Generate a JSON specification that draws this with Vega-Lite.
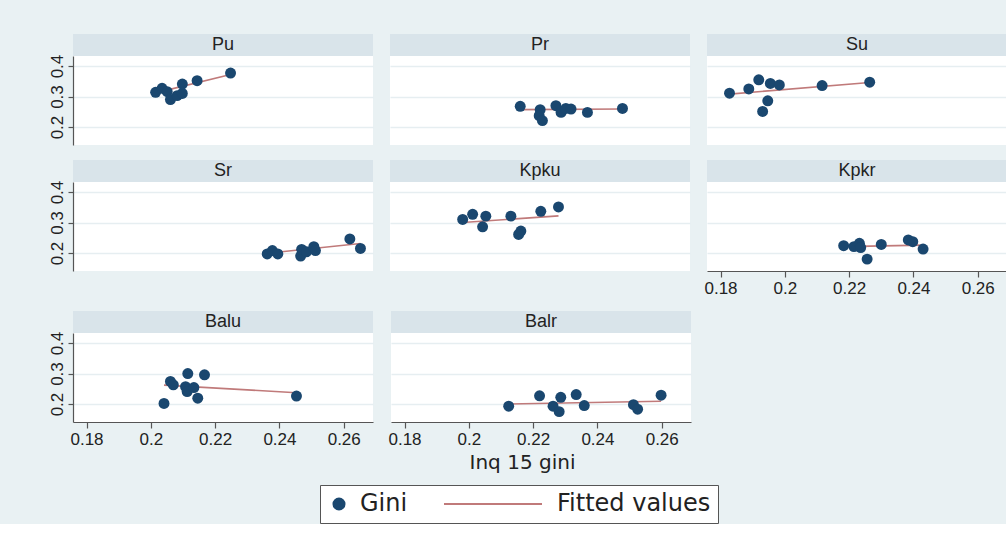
{
  "$schema": "https://vega.github.io/schema/vega-lite/v6.json",
  "padding": {"left": 47, "top": 34, "right": 0, "bottom": 0},
  "background": "#e9f1f3",
  "datasets": {
    "strips": [{"region": "Pu"}, {"region": "Pr"}, {"region": "Su"}, {"region": "Sr"}, {"region": "Kpku"}, {"region": "Kpkr"}, {"region": "Balu"}, {"region": "Balr"}],
    "pts": [
      {"region": "Pu", "x": 0.2015, "y": 0.314}, {"region": "Pu", "x": 0.2035, "y": 0.327}, {"region": "Pu", "x": 0.2051, "y": 0.316}, {"region": "Pu", "x": 0.2061, "y": 0.290}, {"region": "Pu", "x": 0.2082, "y": 0.303}, {"region": "Pu", "x": 0.2098, "y": 0.310}, {"region": "Pu", "x": 0.2098, "y": 0.341}, {"region": "Pu", "x": 0.2144, "y": 0.352}, {"region": "Pu", "x": 0.2248, "y": 0.377},
      {"region": "Pr", "x": 0.2163, "y": 0.268}, {"region": "Pr", "x": 0.2225, "y": 0.257}, {"region": "Pr", "x": 0.2222, "y": 0.237}, {"region": "Pr", "x": 0.2232, "y": 0.221}, {"region": "Pr", "x": 0.2274, "y": 0.270}, {"region": "Pr", "x": 0.2290, "y": 0.248}, {"region": "Pr", "x": 0.2305, "y": 0.261}, {"region": "Pr", "x": 0.2321, "y": 0.259}, {"region": "Pr", "x": 0.2372, "y": 0.248}, {"region": "Pr", "x": 0.2481, "y": 0.261},
      {"region": "Su", "x": 0.1828, "y": 0.311}, {"region": "Su", "x": 0.1888, "y": 0.325}, {"region": "Su", "x": 0.1919, "y": 0.355}, {"region": "Su", "x": 0.1955, "y": 0.343}, {"region": "Su", "x": 0.1983, "y": 0.338}, {"region": "Su", "x": 0.1947, "y": 0.286}, {"region": "Su", "x": 0.1931, "y": 0.251}, {"region": "Su", "x": 0.2116, "y": 0.336}, {"region": "Su", "x": 0.2264, "y": 0.347},
      {"region": "Sr", "x": 0.2362, "y": 0.197}, {"region": "Sr", "x": 0.2378, "y": 0.208}, {"region": "Sr", "x": 0.2395, "y": 0.197}, {"region": "Sr", "x": 0.2466, "y": 0.190}, {"region": "Sr", "x": 0.2469, "y": 0.212}, {"region": "Sr", "x": 0.2484, "y": 0.204}, {"region": "Sr", "x": 0.2507, "y": 0.221}, {"region": "Sr", "x": 0.2512, "y": 0.208}, {"region": "Sr", "x": 0.2619, "y": 0.246}, {"region": "Sr", "x": 0.2652, "y": 0.215},
      {"region": "Kpku", "x": 0.1984, "y": 0.310}, {"region": "Kpku", "x": 0.2015, "y": 0.327}, {"region": "Kpku", "x": 0.2056, "y": 0.321}, {"region": "Kpku", "x": 0.2046, "y": 0.286}, {"region": "Kpku", "x": 0.2134, "y": 0.321}, {"region": "Kpku", "x": 0.2165, "y": 0.272}, {"region": "Kpku", "x": 0.2158, "y": 0.261}, {"region": "Kpku", "x": 0.2227, "y": 0.337}, {"region": "Kpku", "x": 0.2282, "y": 0.351},
      {"region": "Kpkr", "x": 0.2183, "y": 0.224}, {"region": "Kpkr", "x": 0.2215, "y": 0.221}, {"region": "Kpkr", "x": 0.2232, "y": 0.232}, {"region": "Kpkr", "x": 0.2236, "y": 0.218}, {"region": "Kpkr", "x": 0.2256, "y": 0.180}, {"region": "Kpkr", "x": 0.2300, "y": 0.228}, {"region": "Kpkr", "x": 0.2384, "y": 0.243}, {"region": "Kpkr", "x": 0.2398, "y": 0.237}, {"region": "Kpkr", "x": 0.2430, "y": 0.213},
      {"region": "Balu", "x": 0.2041, "y": 0.202}, {"region": "Balu", "x": 0.2061, "y": 0.274}, {"region": "Balu", "x": 0.2070, "y": 0.263}, {"region": "Balu", "x": 0.2115, "y": 0.300}, {"region": "Balu", "x": 0.2108, "y": 0.257}, {"region": "Balu", "x": 0.2113, "y": 0.241}, {"region": "Balu", "x": 0.2134, "y": 0.254}, {"region": "Balu", "x": 0.2146, "y": 0.219}, {"region": "Balu", "x": 0.2167, "y": 0.296}, {"region": "Balu", "x": 0.2453, "y": 0.226},
      {"region": "Balr", "x": 0.2124, "y": 0.193}, {"region": "Balr", "x": 0.2220, "y": 0.227}, {"region": "Balr", "x": 0.2262, "y": 0.193}, {"region": "Balr", "x": 0.2286, "y": 0.222}, {"region": "Balr", "x": 0.2281, "y": 0.175}, {"region": "Balr", "x": 0.2334, "y": 0.231}, {"region": "Balr", "x": 0.2359, "y": 0.195}, {"region": "Balr", "x": 0.2512, "y": 0.198}, {"region": "Balr", "x": 0.2525, "y": 0.183}, {"region": "Balr", "x": 0.2598, "y": 0.229}
    ],
    "fit": [
      {"region": "Pu", "x": 0.2015, "y": 0.312}, {"region": "Pu", "x": 0.2248, "y": 0.372},
      {"region": "Pr", "x": 0.2163, "y": 0.257}, {"region": "Pr", "x": 0.2481, "y": 0.259},
      {"region": "Su", "x": 0.1828, "y": 0.308}, {"region": "Su", "x": 0.2264, "y": 0.346},
      {"region": "Sr", "x": 0.2362, "y": 0.199}, {"region": "Sr", "x": 0.2652, "y": 0.231},
      {"region": "Kpku", "x": 0.1984, "y": 0.300}, {"region": "Kpku", "x": 0.2282, "y": 0.322},
      {"region": "Kpkr", "x": 0.2183, "y": 0.221}, {"region": "Kpkr", "x": 0.2430, "y": 0.226},
      {"region": "Balu", "x": 0.2041, "y": 0.262}, {"region": "Balu", "x": 0.2453, "y": 0.237},
      {"region": "Balr", "x": 0.2124, "y": 0.200}, {"region": "Balr", "x": 0.2598, "y": 0.209}
    ]
  },
  "spacing": 15,
  "vconcat": [
    {"spacing": 17, "hconcat": [
      {"spacing": 0, "bounds": "flush", "vconcat": [
        {"width": 300, "height": 22, "view": {"fill": "#d9e4ea", "stroke": null}, "data": {"name": "strips"}, "transform": [{"filter": "datum.region === 'Pu'"}], "mark": {"type": "text", "font": "Liberation Sans", "fontSize": 18, "color": "#222"}, "encoding": {"text": {"field": "region", "type": "nominal"}}},
        {"width": 300, "height": 89, "view": {"fill": "white", "stroke": null}, "layer": [
          {"data": {"name": "fit"}, "transform": [{"filter": "datum.region === 'Pu'"}], "mark": {"type": "line", "color": "#c07a7a", "strokeWidth": 1.6},
           "encoding": {"x": {"field": "x", "type": "quantitative", "scale": {"domain": [0.1758, 0.2691], "nice": false, "zero": false}, "axis": null},
                        "y": {"field": "y", "type": "quantitative", "scale": {"domain": [0.141, 0.433], "nice": false, "zero": false}, "axis": {"values": [0.2, 0.3, 0.4], "format": ".1f", "labelAngle": -90, "tickSize": 5, "title": null, "grid": true}}}},
          {"data": {"name": "pts"}, "transform": [{"filter": "datum.region === 'Pu'"}], "mark": {"type": "point", "filled": true, "size": 120, "opacity": 1},
           "encoding": {"x": {"field": "x", "type": "quantitative", "scale": {"domain": [0.1758, 0.2691], "nice": false, "zero": false}, "axis": null},
                        "y": {"field": "y", "type": "quantitative", "scale": {"domain": [0.141, 0.433], "nice": false, "zero": false}, "axis": {"values": [0.2, 0.3, 0.4], "format": ".1f", "labelAngle": -90, "tickSize": 5, "title": null, "grid": true}},
                        "color": {"datum": "Gini", "type": "nominal", "scale": {"domain": ["Gini", "Fitted values"], "range": ["#1a476f", "#c07a7a"]},
                          "legend": {"orient": "none", "legendX": 247, "legendY": 451, "direction": "horizontal", "title": null,
                            "labelFont": "DejaVu Sans", "labelFontSize": 24, "labelColor": "#222", "strokeColor": "#555", "fillColor": "white", "padding": 7, "columnPadding": 32,
                            "labelOffset": {"expr": "(datum.value === 'Fitted values' ? 52 : 9)"},
                            "symbolType": {"expr": "(datum.value === 'Fitted values' ? 'stroke' : 'circle')"},
                            "symbolSize": {"expr": "(datum.value === 'Fitted values' ? 9604 : 170)"},
                            "symbolStrokeColor": {"expr": "(datum.value === 'Fitted values' ? '#c07a7a' : '#1a476f')"},
                            "symbolStrokeWidth": {"expr": "(datum.value === 'Fitted values' ? 2 : 0)"},
                            "symbolFillColor": {"expr": "(datum.value === 'Fitted values' ? '#c07a7a' : '#1a476f')"},
                            "symbolOpacity": 1}}}}
        ]}
      ]},
      {"spacing": 0, "bounds": "flush", "vconcat": [
        {"width": 300, "height": 22, "view": {"fill": "#d9e4ea", "stroke": null}, "data": {"name": "strips"}, "transform": [{"filter": "datum.region === 'Pr'"}], "mark": {"type": "text", "font": "Liberation Sans", "fontSize": 18, "color": "#222"}, "encoding": {"text": {"field": "region", "type": "nominal"}}},
        {"width": 300, "height": 89, "view": {"fill": "white", "stroke": null}, "layer": [
          {"data": {"name": "fit"}, "transform": [{"filter": "datum.region === 'Pr'"}], "mark": {"type": "line", "color": "#c07a7a", "strokeWidth": 1.6},
           "encoding": {"x": {"field": "x", "type": "quantitative", "scale": {"domain": [0.1758, 0.2691], "nice": false, "zero": false}, "axis": null},
                        "y": {"field": "y", "type": "quantitative", "scale": {"domain": [0.141, 0.433], "nice": false, "zero": false}, "axis": {"values": [0.2, 0.3, 0.4], "labels": false, "ticks": false, "domain": false, "title": null, "grid": true}}}},
          {"data": {"name": "pts"}, "transform": [{"filter": "datum.region === 'Pr'"}], "mark": {"type": "point", "filled": true, "size": 120, "opacity": 1, "color": "#1a476f"},
           "encoding": {"x": {"field": "x", "type": "quantitative", "scale": {"domain": [0.1758, 0.2691], "nice": false, "zero": false}, "axis": null},
                        "y": {"field": "y", "type": "quantitative", "scale": {"domain": [0.141, 0.433], "nice": false, "zero": false}, "axis": {"values": [0.2, 0.3, 0.4], "labels": false, "ticks": false, "domain": false, "title": null, "grid": true}}}}
        ]}
      ]},
      {"spacing": 0, "bounds": "flush", "vconcat": [
        {"width": 300, "height": 22, "view": {"fill": "#d9e4ea", "stroke": null}, "data": {"name": "strips"}, "transform": [{"filter": "datum.region === 'Su'"}], "mark": {"type": "text", "font": "Liberation Sans", "fontSize": 18, "color": "#222"}, "encoding": {"text": {"field": "region", "type": "nominal"}}},
        {"width": 300, "height": 89, "view": {"fill": "white", "stroke": null}, "layer": [
          {"data": {"name": "fit"}, "transform": [{"filter": "datum.region === 'Su'"}], "mark": {"type": "line", "color": "#c07a7a", "strokeWidth": 1.6},
           "encoding": {"x": {"field": "x", "type": "quantitative", "scale": {"domain": [0.1758, 0.2691], "nice": false, "zero": false}, "axis": null},
                        "y": {"field": "y", "type": "quantitative", "scale": {"domain": [0.141, 0.433], "nice": false, "zero": false}, "axis": {"values": [0.2, 0.3, 0.4], "labels": false, "ticks": false, "domain": false, "title": null, "grid": true}}}},
          {"data": {"name": "pts"}, "transform": [{"filter": "datum.region === 'Su'"}], "mark": {"type": "point", "filled": true, "size": 120, "opacity": 1, "color": "#1a476f"},
           "encoding": {"x": {"field": "x", "type": "quantitative", "scale": {"domain": [0.1758, 0.2691], "nice": false, "zero": false}, "axis": null},
                        "y": {"field": "y", "type": "quantitative", "scale": {"domain": [0.141, 0.433], "nice": false, "zero": false}, "axis": {"values": [0.2, 0.3, 0.4], "labels": false, "ticks": false, "domain": false, "title": null, "grid": true}}}}
        ]}
      ]}
    ]},
    {"spacing": 13, "hconcat": [
      {"spacing": 17, "hconcat": [
        {"spacing": 0, "bounds": "flush", "vconcat": [
          {"width": 300, "height": 22, "view": {"fill": "#d9e4ea", "stroke": null}, "data": {"name": "strips"}, "transform": [{"filter": "datum.region === 'Sr'"}], "mark": {"type": "text", "font": "Liberation Sans", "fontSize": 18, "color": "#222"}, "encoding": {"text": {"field": "region", "type": "nominal"}}},
          {"width": 300, "height": 89, "view": {"fill": "white", "stroke": null}, "layer": [
            {"data": {"name": "fit"}, "transform": [{"filter": "datum.region === 'Sr'"}], "mark": {"type": "line", "color": "#c07a7a", "strokeWidth": 1.6},
             "encoding": {"x": {"field": "x", "type": "quantitative", "scale": {"domain": [0.1758, 0.2691], "nice": false, "zero": false}, "axis": null},
                          "y": {"field": "y", "type": "quantitative", "scale": {"domain": [0.141, 0.433], "nice": false, "zero": false}, "axis": {"values": [0.2, 0.3, 0.4], "format": ".1f", "labelAngle": -90, "tickSize": 5, "title": null, "grid": true}}}},
            {"data": {"name": "pts"}, "transform": [{"filter": "datum.region === 'Sr'"}], "mark": {"type": "point", "filled": true, "size": 120, "opacity": 1, "color": "#1a476f"},
             "encoding": {"x": {"field": "x", "type": "quantitative", "scale": {"domain": [0.1758, 0.2691], "nice": false, "zero": false}, "axis": null},
                          "y": {"field": "y", "type": "quantitative", "scale": {"domain": [0.141, 0.433], "nice": false, "zero": false}, "axis": {"values": [0.2, 0.3, 0.4], "format": ".1f", "labelAngle": -90, "tickSize": 5, "title": null, "grid": true}}}}
          ]}
        ]},
        {"spacing": 0, "bounds": "flush", "vconcat": [
          {"width": 300, "height": 22, "view": {"fill": "#d9e4ea", "stroke": null}, "data": {"name": "strips"}, "transform": [{"filter": "datum.region === 'Kpku'"}], "mark": {"type": "text", "font": "Liberation Sans", "fontSize": 18, "color": "#222"}, "encoding": {"text": {"field": "region", "type": "nominal"}}},
          {"width": 300, "height": 89, "view": {"fill": "white", "stroke": null}, "layer": [
            {"data": {"name": "fit"}, "transform": [{"filter": "datum.region === 'Kpku'"}], "mark": {"type": "line", "color": "#c07a7a", "strokeWidth": 1.6},
             "encoding": {"x": {"field": "x", "type": "quantitative", "scale": {"domain": [0.1758, 0.2691], "nice": false, "zero": false}, "axis": null},
                          "y": {"field": "y", "type": "quantitative", "scale": {"domain": [0.141, 0.433], "nice": false, "zero": false}, "axis": {"values": [0.2, 0.3, 0.4], "labels": false, "ticks": false, "domain": false, "title": null, "grid": true}}}},
            {"data": {"name": "pts"}, "transform": [{"filter": "datum.region === 'Kpku'"}], "mark": {"type": "point", "filled": true, "size": 120, "opacity": 1, "color": "#1a476f"},
             "encoding": {"x": {"field": "x", "type": "quantitative", "scale": {"domain": [0.1758, 0.2691], "nice": false, "zero": false}, "axis": null},
                          "y": {"field": "y", "type": "quantitative", "scale": {"domain": [0.141, 0.433], "nice": false, "zero": false}, "axis": {"values": [0.2, 0.3, 0.4], "labels": false, "ticks": false, "domain": false, "title": null, "grid": true}}}}
          ]}
        ]}
      ]},
      {"spacing": 0, "bounds": "flush", "vconcat": [
        {"width": 300, "height": 22, "view": {"fill": "#d9e4ea", "stroke": null}, "data": {"name": "strips"}, "transform": [{"filter": "datum.region === 'Kpkr'"}], "mark": {"type": "text", "font": "Liberation Sans", "fontSize": 18, "color": "#222"}, "encoding": {"text": {"field": "region", "type": "nominal"}}},
        {"width": 300, "height": 89, "view": {"fill": "white", "stroke": null}, "layer": [
          {"data": {"name": "fit"}, "transform": [{"filter": "datum.region === 'Kpkr'"}], "mark": {"type": "line", "color": "#c07a7a", "strokeWidth": 1.6},
           "encoding": {"x": {"field": "x", "type": "quantitative", "scale": {"domain": [0.1758, 0.2691], "nice": false, "zero": false}, "axis": {"values": [0.18, 0.2, 0.22, 0.24, 0.26], "format": ".2~f", "grid": false, "tickSize": 6, "labelPadding": 3, "title": null}},
                        "y": {"field": "y", "type": "quantitative", "scale": {"domain": [0.141, 0.433], "nice": false, "zero": false}, "axis": {"values": [0.2, 0.3, 0.4], "labels": false, "ticks": false, "domain": false, "title": null, "grid": true}}}},
          {"data": {"name": "pts"}, "transform": [{"filter": "datum.region === 'Kpkr'"}], "mark": {"type": "point", "filled": true, "size": 120, "opacity": 1, "color": "#1a476f"},
           "encoding": {"x": {"field": "x", "type": "quantitative", "scale": {"domain": [0.1758, 0.2691], "nice": false, "zero": false}, "axis": {"values": [0.18, 0.2, 0.22, 0.24, 0.26], "format": ".2~f", "grid": false, "tickSize": 6, "labelPadding": 3, "title": null}},
                        "y": {"field": "y", "type": "quantitative", "scale": {"domain": [0.141, 0.433], "nice": false, "zero": false}, "axis": {"values": [0.2, 0.3, 0.4], "labels": false, "ticks": false, "domain": false, "title": null, "grid": true}}}}
        ]}
      ]}
    ]},
    {"spacing": 14, "hconcat": [
      {"spacing": 0, "bounds": "flush", "vconcat": [
        {"width": 300, "height": 22, "view": {"fill": "#d9e4ea", "stroke": null}, "data": {"name": "strips"}, "transform": [{"filter": "datum.region === 'Balu'"}], "mark": {"type": "text", "font": "Liberation Sans", "fontSize": 18, "color": "#222"}, "encoding": {"text": {"field": "region", "type": "nominal"}}},
        {"width": 300, "height": 89, "view": {"fill": "white", "stroke": null}, "layer": [
          {"data": {"name": "fit"}, "transform": [{"filter": "datum.region === 'Balu'"}], "mark": {"type": "line", "color": "#c07a7a", "strokeWidth": 1.6},
           "encoding": {"x": {"field": "x", "type": "quantitative", "scale": {"domain": [0.1758, 0.2691], "nice": false, "zero": false}, "axis": {"values": [0.18, 0.2, 0.22, 0.24, 0.26], "format": ".2~f", "grid": false, "tickSize": 6, "labelPadding": 3, "title": null}},
                        "y": {"field": "y", "type": "quantitative", "scale": {"domain": [0.141, 0.433], "nice": false, "zero": false}, "axis": {"values": [0.2, 0.3, 0.4], "format": ".1f", "labelAngle": -90, "tickSize": 5, "title": null, "grid": true}}}},
          {"data": {"name": "pts"}, "transform": [{"filter": "datum.region === 'Balu'"}], "mark": {"type": "point", "filled": true, "size": 120, "opacity": 1, "color": "#1a476f"},
           "encoding": {"x": {"field": "x", "type": "quantitative", "scale": {"domain": [0.1758, 0.2691], "nice": false, "zero": false}, "axis": {"values": [0.18, 0.2, 0.22, 0.24, 0.26], "format": ".2~f", "grid": false, "tickSize": 6, "labelPadding": 3, "title": null}},
                        "y": {"field": "y", "type": "quantitative", "scale": {"domain": [0.141, 0.433], "nice": false, "zero": false}, "axis": {"values": [0.2, 0.3, 0.4], "format": ".1f", "labelAngle": -90, "tickSize": 5, "title": null, "grid": true}}}}
        ]}
      ]},
      {"spacing": 0, "bounds": "flush", "vconcat": [
        {"width": 300, "height": 22, "view": {"fill": "#d9e4ea", "stroke": null}, "data": {"name": "strips"}, "transform": [{"filter": "datum.region === 'Balr'"}], "mark": {"type": "text", "font": "Liberation Sans", "fontSize": 18, "color": "#222"}, "encoding": {"text": {"field": "region", "type": "nominal"}}},
        {"width": 300, "height": 89, "view": {"fill": "white", "stroke": null}, "layer": [
          {"data": {"name": "fit"}, "transform": [{"filter": "datum.region === 'Balr'"}], "mark": {"type": "line", "color": "#c07a7a", "strokeWidth": 1.6},
           "encoding": {"x": {"field": "x", "type": "quantitative", "scale": {"domain": [0.1758, 0.2691], "nice": false, "zero": false}, "axis": {"values": [0.18, 0.2, 0.22, 0.24, 0.26], "format": ".2~f", "grid": false, "tickSize": 6, "labelPadding": 3, "title": "Inq 15 gini", "titleX": 131, "titlePadding": 5}},
                        "y": {"field": "y", "type": "quantitative", "scale": {"domain": [0.141, 0.433], "nice": false, "zero": false}, "axis": {"values": [0.2, 0.3, 0.4], "labels": false, "ticks": false, "domain": false, "title": null, "grid": true}}}},
          {"data": {"name": "pts"}, "transform": [{"filter": "datum.region === 'Balr'"}], "mark": {"type": "point", "filled": true, "size": 120, "opacity": 1, "color": "#1a476f"},
           "encoding": {"x": {"field": "x", "type": "quantitative", "scale": {"domain": [0.1758, 0.2691], "nice": false, "zero": false}, "axis": {"values": [0.18, 0.2, 0.22, 0.24, 0.26], "format": ".2~f", "grid": false, "tickSize": 6, "labelPadding": 3, "title": "Inq 15 gini", "titleX": 131, "titlePadding": 5}},
                        "y": {"field": "y", "type": "quantitative", "scale": {"domain": [0.141, 0.433], "nice": false, "zero": false}, "axis": {"values": [0.2, 0.3, 0.4], "labels": false, "ticks": false, "domain": false, "title": null, "grid": true}}}}
        ]}
      ]}
    ]}
  ],
  "config": {
    "view": {"stroke": null},
    "axis": {"labelFont": "Liberation Sans", "labelFontSize": 17, "labelColor": "#222", "domainColor": "#555", "domainWidth": 1.2, "tickColor": "#555", "tickWidth": 1.2, "gridColor": "#e6eef1", "gridWidth": 1.3, "titleFont": "DejaVu Sans", "titleFontSize": 20, "titleFontWeight": "normal", "titleColor": "#222"}
  }
}
